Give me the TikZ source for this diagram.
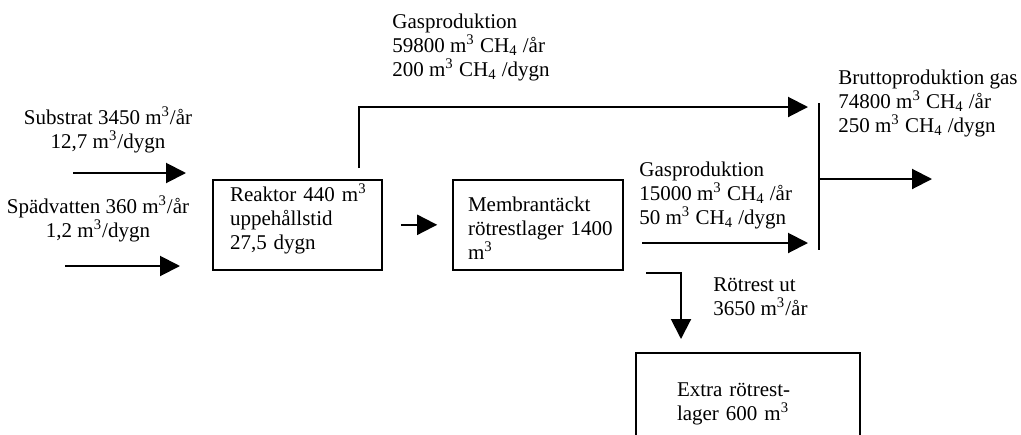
\documentclass[tikz,border=0pt]{standalone}
\usepackage{fontspec}
\setmainfont{Liberation Serif}
\usetikzlibrary{arrows.meta}
\tikzset{
  flow/.style={line width=1pt, -{Triangle[length=10pt,width=10pt]}},
  box/.style={draw, line width=0.8pt, inner sep=0pt, align=left, anchor=north},
  lbl/.style={inner sep=0pt, align=left, anchor=base west},
}
\newcommand{\mkub}{m\textsuperscript{3}}
\newcommand{\metan}{CH\textsubscript{4}}

\begin{document}
\begin{tikzpicture}[x=0.5pt, y=-0.5pt, font=\fontsize{10.5}{12}\selectfont]
    \useasboundingbox (0,0) rectangle (1021,434);
    \clip (0,0) rectangle (1021,434);
    % inflows (labels sit on their last baseline)
    \node[lbl, align=center, anchor=base] (substrat) at (108,148) {Substrat 3450 \mkub/år\\12,7 \mkub/dygn};
    \node[lbl, align=center, anchor=base] (spad) at (98,237) {Spädvatten 360 \mkub/år\\1,2 \mkub/dygn};
    \coordinate (substrat-a) at (73,173);
    \coordinate (substrat-b) at (186,173);
    \coordinate (spad-a) at (65,266);
    \coordinate (spad-b) at (180,266);
    \draw[flow] (substrat-a) -- (substrat-b);
    \draw[flow] (spad-a) -- (spad-b);
    % tanks
    \node[box, text width=67.5pt, minimum width=84.5pt, text height=11pt, text depth=34pt] (reaktor) at (297.5,179) {Reaktor~440~\mkub\\uppehållstid\\27,5 dygn};
    \node[box, text width=70pt, minimum width=85pt, text height=16pt, text depth=29pt] (membran) at (538,179) {Membrantäckt\\rötrestlager~1400\\\mkub};
    \node[box, text width=71pt, minimum width=112pt, text height=22pt, text depth=30pt] (extra) at (748,352) {Extra rötrest-\\lager 600 \mkub};
    \draw[flow] ([xshift=9pt]reaktor.east) -- ([xshift=-7.5pt]membran.west);
    % gas from reactor, over the top
    \node[lbl] (gastopp) at (392,76) {Gasproduktion\\59800 \mkub{} \metan{} /år\\200 \mkub{} \metan{} /dygn};
    \coordinate (gastopp-a) at (359,168);
    \coordinate (gastopp-b) at (808,107);
    \draw[flow] (gastopp-a) |- (gastopp-b);
    % gas from storage
    \node[lbl] (gaslager) at (639,224) {Gasproduktion\\15000 \mkub{} \metan{} /år\\50 \mkub{} \metan{} /dygn};
    \coordinate (gaslager-a) at (642,243);
    \coordinate (gaslager-b) at (808,243);
    \draw[flow] (gaslager-a) -- (gaslager-b);
    % collector and gross output
    \node[lbl] (brutto) at (838,132) {Bruttoproduktion gas\\74800 \mkub{} \metan{} /år\\250 \mkub{} \metan{} /dygn};
    \coordinate (samling-a) at (819,103);
    \coordinate (samling-b) at (819,250);
    \coordinate (brutto-b) at (932,179);
    \draw[line width=1pt] (samling-a) -- (samling-b);
    \draw[flow] (samling-a |- brutto-b) -- (brutto-b);
    % digestate out
    \node[lbl] (rotrest) at (713,315) {Rötrest ut\\3650 \mkub/år};
    \coordinate (rotrest-a) at (646,273);
    \coordinate (rotrest-b) at (681,339);
    \draw[flow] (rotrest-a) -| (rotrest-b);
\end{tikzpicture}
\end{document}
